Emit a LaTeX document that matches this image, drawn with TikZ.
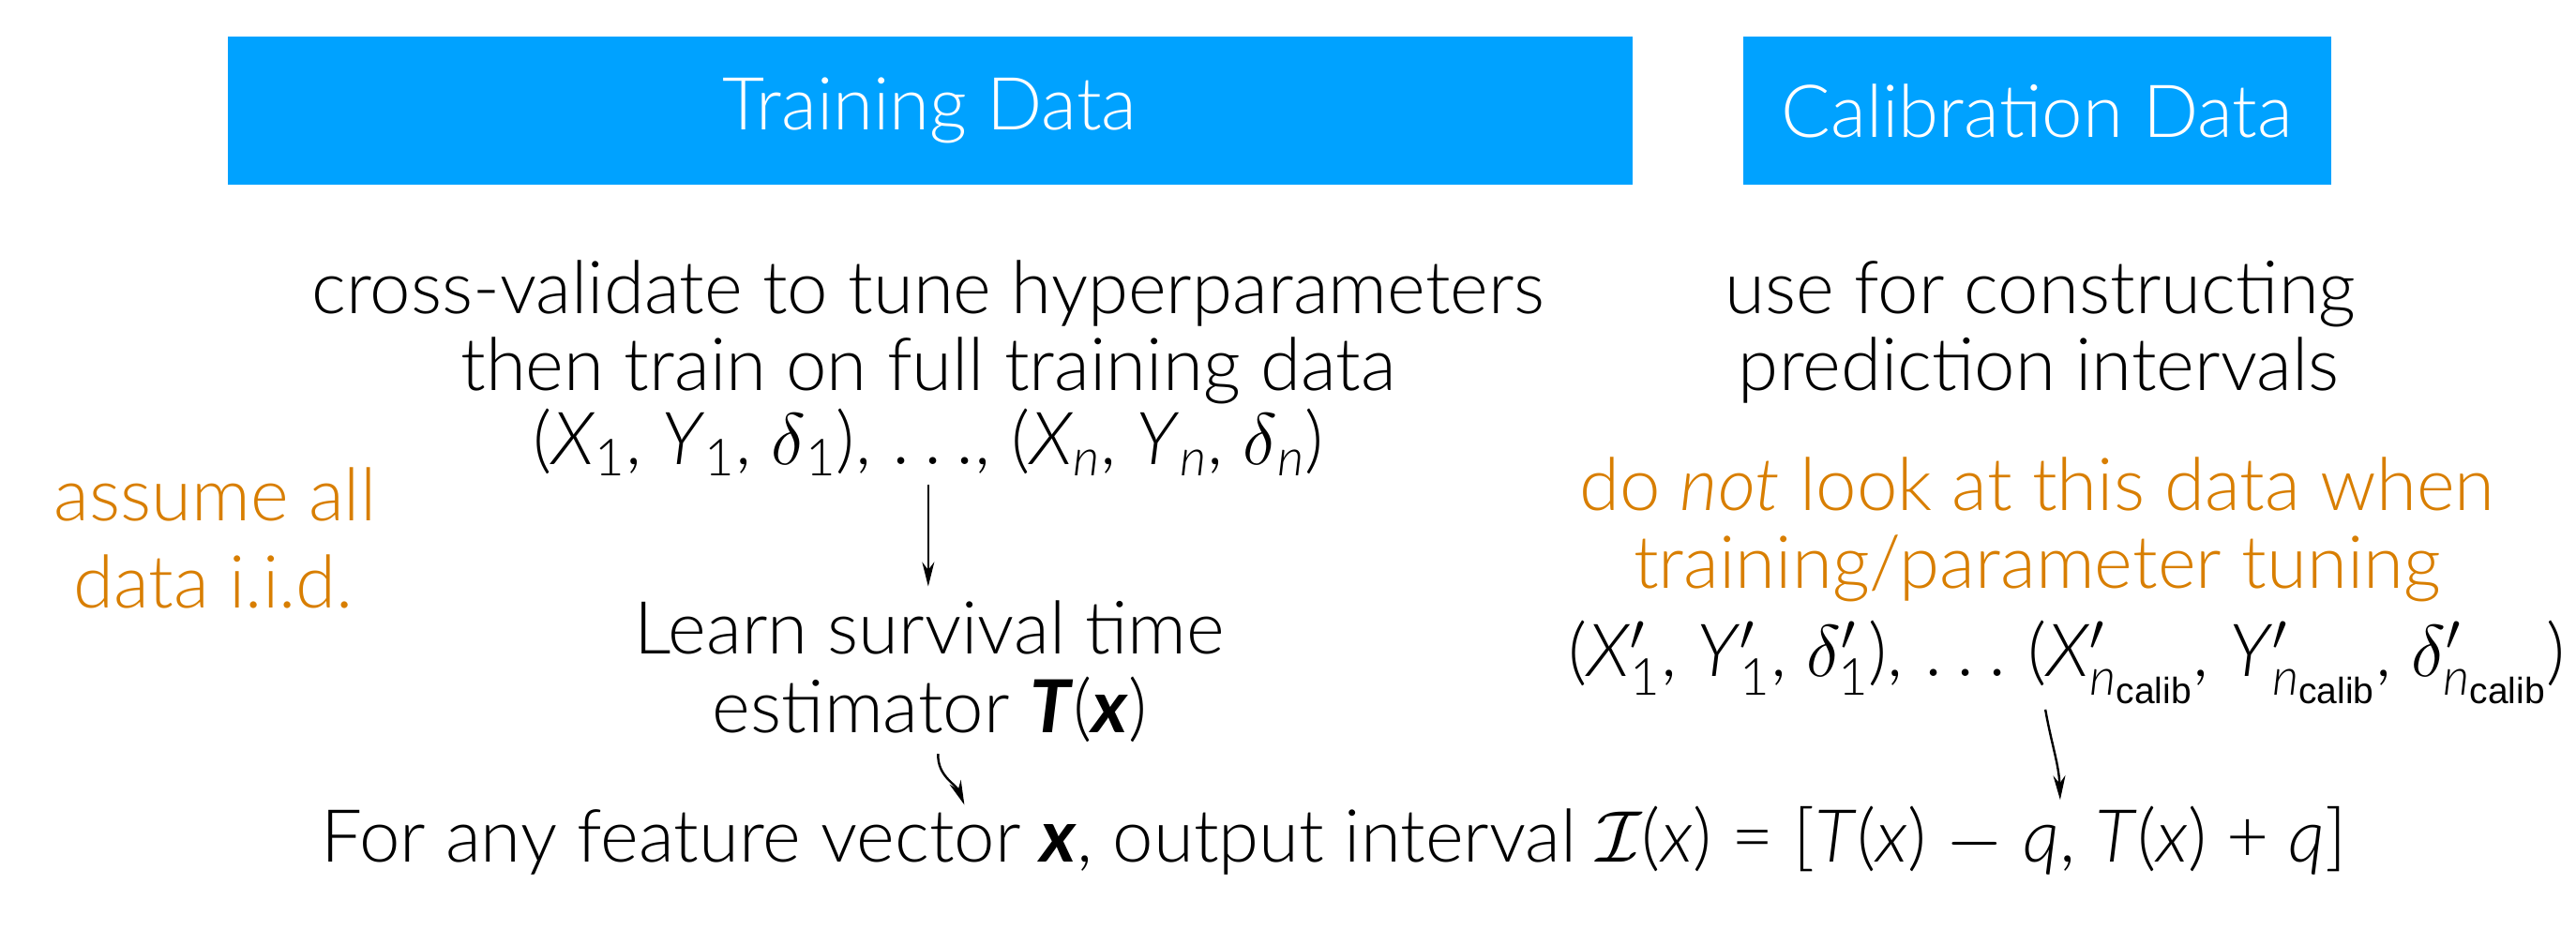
\RequirePackage{fix-cm}
\documentclass[tikz,border=0pt]{standalone}
\usepackage{amsmath}
\usepackage{fontspec}
\setmainfont{Lato}[UprightFont={* Light}, ItalicFont={* Light Italic}, BoldFont={* Bold}, BoldItalicFont={* Bold Italic}]
\newfontfamily\helvfont{Liberation Sans}
\usetikzlibrary{arrows.meta}
\definecolor{boxblue}{RGB}{0,162,255}
\definecolor{notecol}{RGB}{216,126,0}
\tikzset{
  txt/.style={inner sep=0pt, anchor=base, font=\fontsize{39}{47}\selectfont},
  notetxt/.style={txt, text=notecol},
  hdr/.style={fill=boxblue, text=white, inner sep=0pt, minimum height=78.8pt, font=\fontsize{39}{47}\selectfont},
  arr/.style={-{Stealth[length=13pt,width=6.5pt]}, line width=1.2pt}
}
\newcommand{\calibsub}{\text{\helvfont calib}}
\begin{document}
\begin{tikzpicture}[x=0.876pt, y=-0.876pt]
\useasboundingbox (0,0) rectangle (1568,566);
% headers
\node[hdr, minimum width=749pt] (train) at (566,67.5) {Training Data};
\node[hdr, minimum width=313.6pt] (calib) at (1240,67.5) {Calibration Data};
% training column
\node[txt] (cv1) at (565,191) {cross-validate to tune hyperparameters};
\node[txt] (cv2) at (565,238) {then train on full training data};
\node[txt] (data) at (565,283) {(\textit{X}\textsubscript{1}, \textit{Y}\textsubscript{1}, $\delta$\textsubscript{1}), $\ldots$, (\textit{X}\textsubscript{\textit{n}}, \textit{Y}\textsubscript{\textit{n}}, $\delta$\textsubscript{\textit{n}})};
\node[txt] (learn1) at (566,398) {Learn survival time};
\node[txt] (learn2) at (566,446) {estimator \textbf{\textit{T}}(\textbf{\textit{x}})};
% left note
\node[notetxt] (iid1) at (131,317) {assume all};
\node[notetxt] (iid2) at (130,370) {data i.i.d.};
% calibration column
\node[txt] (use1) at (1242,191) {use for constructing};
\node[txt] (use2) at (1241,238) {prediction intervals};
\node[notetxt] (no1) at (1240,311) {do \textit{not} look at this data when};
\node[notetxt] (no2) at (1240,358) {training/parameter tuning};
\node[txt, anchor=base east] (cdata) at (1562,412) {(\textit{X}$'_{\text{1}}$, \textit{Y}$'_{\text{1}}$, $\delta'_{\text{1}}$), $\ldots$ (\textit{X}$'_{\textit{n}_{\calibsub}}$, \textit{Y}$'_{\textit{n}_{\calibsub}}$, $\delta'_{\textit{n}_{\calibsub}}$)};
% output
\node[txt] (out) at (812,525) {For any feature vector \textbf{\textit{x}}, output interval $\mathcal{I}$(\textit{x}) = [\textit{T}(\textit{x}) $-$ \textit{q}, \textit{T}(\textit{x}) + \textit{q}]};
% arrows
\coordinate (a1s) at (565,295);
\coordinate (a1e) at (565,357);
\draw[arr] (a1s) -- (a1e);
\coordinate (a2s) at (571,459);
\coordinate (a2e) at (587,490);
\draw[arr] (a2s) to[out=-92,in=112] (a2e);
\coordinate (a3s) at (1245,432);
\coordinate (a3e) at (1254,487);
\draw[arr] (a3s) to[out=-80,in=92] (a3e);
\end{tikzpicture}
\end{document}
